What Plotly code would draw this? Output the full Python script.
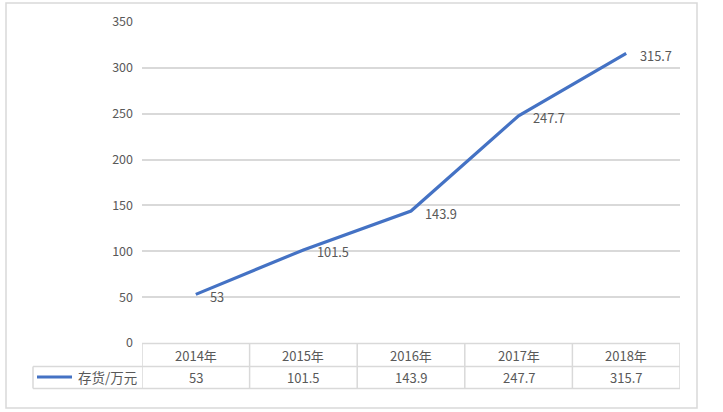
import plotly.graph_objects as go

categories = ["2014年", "2015年", "2016年", "2017年", "2018年"]
values = [53, 101.5, 143.9, 247.7, 315.7]
value_labels = ["53", "101.5", "143.9", "247.7", "315.7"]
series_name = "存货/万元"
y_ticks = [0, 50, 100, 150, 200, 250, 300, 350]

W, H = 723, 412
FONT = "Noto Sans CJK SC, sans-serif"
TXT = "#595959"
GRID = "#d9d9d9"
BLUE = "#4472C4"

def px(x):
    return x / W

def py(y):
    return 1 - y / H

fig = go.Figure()
fig.add_trace(go.Scatter(
    x=list(range(len(categories))), y=values, mode="lines",
    line=dict(color=BLUE, width=3.2), showlegend=False, hoverinfo="skip"))

annotations = []
for i, (v, t) in enumerate(zip(values, value_labels)):
    annotations.append(dict(x=i, y=v, xref="x", yref="y", text=t, showarrow=False,
                            xanchor="left", yanchor="middle", xshift=12, yshift=-2,
                            font=dict(family=FONT, size=12.8, color=TXT)))

header_y = 355
row_y = 377
for i, c in enumerate(categories):
    annotations.append(dict(x=i, y=py(header_y), xref="x", yref="paper", text=c,
                            showarrow=False, xanchor="center", yanchor="middle",
                            font=dict(family=FONT, size=13, color=TXT)))
    annotations.append(dict(x=i, y=py(row_y), xref="x", yref="paper", text=value_labels[i],
                            showarrow=False, xanchor="center", yanchor="middle",
                            font=dict(family=FONT, size=13, color=TXT)))
annotations.append(dict(x=px(76), y=py(row_y), xref="paper", yref="paper", text=series_name,
                        showarrow=False, xanchor="left", yanchor="middle",
                        font=dict(family=FONT, size=13.5, color=TXT)))

shapes = []
shapes.append(dict(type="rect", xref="paper", yref="paper", x0=px(6), x1=px(697),
                   y0=py(408), y1=py(3), line=dict(color=GRID, width=1.5)))
shapes.append(dict(type="line", xref="paper", yref="paper", x0=px(142), x1=px(680),
                   y0=py(343.5), y1=py(343.5), line=dict(color=GRID, width=1.5)))
for yy in [366.5, 388.5]:
    shapes.append(dict(type="line", xref="paper", yref="paper", x0=px(33), x1=px(680),
                       y0=py(yy), y1=py(yy), line=dict(color=GRID, width=1.5)))
for i in range(len(categories) + 1):
    shapes.append(dict(type="line", xref="x", yref="paper", x0=i - 0.5, x1=i - 0.5,
                       y0=py(388.5), y1=py(343.5), line=dict(color=GRID, width=1.5)))
shapes.append(dict(type="line", xref="paper", yref="paper", x0=px(33), x1=px(33),
                   y0=py(388.5), y1=py(366.5), line=dict(color=GRID, width=1.5)))
shapes.append(dict(type="line", xref="paper", yref="paper", x0=px(37), x1=px(72),
                   y0=py(377), y1=py(377), line=dict(color=BLUE, width=3.2)))

fig.update_layout(
    width=W, height=H, margin=dict(l=0, r=0, t=0, b=0, autoexpand=False),
    paper_bgcolor="white", plot_bgcolor="white",
    xaxis=dict(domain=[px(142), px(680)], range=[-0.5, len(categories) - 0.5],
               showgrid=False, zeroline=False, showticklabels=False, showline=False,
               automargin=False),
    yaxis=dict(domain=[py(343), py(22)], range=[0, 350], tickvals=y_ticks,
               showgrid=True, gridcolor=GRID, gridwidth=1.5, zeroline=False,
               showline=False, ticks="", ticklabelstandoff=8, automargin=False,
               tickfont=dict(family=FONT, size=12.5, color=TXT)),
    annotations=annotations, shapes=shapes,
)
fig.write_html("out.html", config={"displayModeBar": False},
               post_script="document.body.style.margin='0';document.body.style.overflow='hidden';")
